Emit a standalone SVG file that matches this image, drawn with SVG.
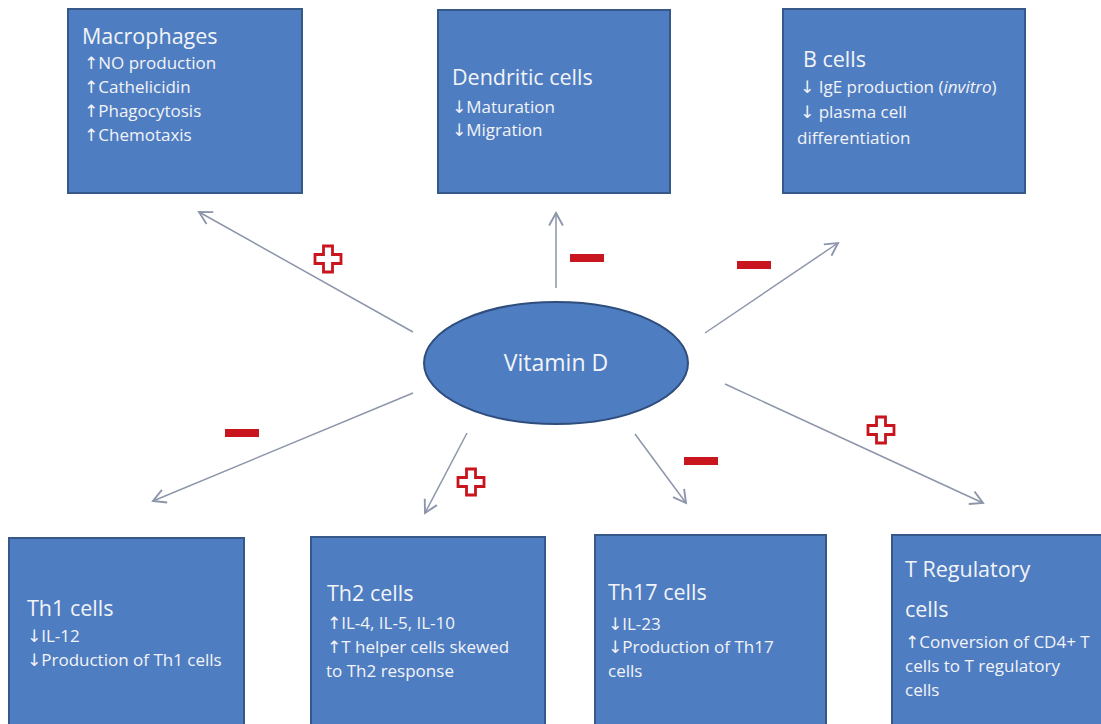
<svg xmlns="http://www.w3.org/2000/svg" width="1101" height="724" viewBox="0 0 1101 724">
<defs>
<style>
.box{fill:#4F7DC1;stroke:#37598A;stroke-width:2}
.t{font-family:"Open Sans","DejaVu Sans",sans-serif;fill:#F2F4F8}
.ttl{font-size:21.5px}
.bd{font-size:17px}
.conn line{stroke:#8C95AA;stroke-width:1.5;fill:none}
.minus{fill:#C8151E}
.plus{fill:#FFFFFF;stroke:#C8151E;stroke-width:2.8;stroke-linejoin:miter}
</style>
<marker id="ah" markerUnits="userSpaceOnUse" markerWidth="20" markerHeight="20" refX="0" refY="0" viewBox="-12 -8 14 16" orient="auto">
<path d="M-10,-5.5 L0,0 L-10,5.5" fill="none" stroke="#8C95AA" stroke-width="1.5"/>
</marker>
<path id="plusShape" d="M-4.5,-13 H4.5 V-4.5 H13 V4.5 H4.5 V13 H-4.5 V4.5 H-13 V-4.5 H-4.5 Z"/>
</defs>
<rect width="1101" height="724" fill="#FFFFFF"/>

<g class="conn" id="connectors">
<line x1="413" y1="332" x2="199" y2="212" marker-end="url(#ah)"/>
<line x1="556" y1="288" x2="556" y2="213" marker-end="url(#ah)"/>
<line x1="705" y1="333" x2="838" y2="243" marker-end="url(#ah)"/>
<line x1="413" y1="393" x2="153" y2="501" marker-end="url(#ah)"/>
<line x1="467" y1="433" x2="425" y2="513" marker-end="url(#ah)"/>
<line x1="635" y1="434" x2="686" y2="503" marker-end="url(#ah)"/>
<line x1="725" y1="384" x2="983" y2="503" marker-end="url(#ah)"/>
</g>

<g id="signs">
<use href="#plusShape" class="plus" x="328" y="259"/>
<rect class="minus" x="570" y="254" width="34" height="8"/>
<rect class="minus" x="737" y="261" width="34" height="8"/>
<rect class="minus" x="225" y="429" width="34" height="8"/>
<use href="#plusShape" class="plus" x="471" y="482"/>
<rect class="minus" x="684" y="457" width="34" height="8"/>
<use href="#plusShape" class="plus" x="881" y="430"/>
</g>

<g id="vitamin-d">
<ellipse cx="556" cy="363" rx="132" ry="61" fill="#4F7DC1" stroke="#2F4D7D" stroke-width="2"/>
<text class="t" x="556" y="371" font-size="23" text-anchor="middle">Vitamin D</text>
</g>

<g id="macrophages">
<rect class="box" x="68" y="9" width="234" height="184"/>
<text class="t ttl" x="82" y="44">Macrophages</text>
<text class="t bd" x="84" y="69">↑NO production</text>
<text class="t bd" x="84" y="93">↑Cathelicidin</text>
<text class="t bd" x="84" y="117">↑Phagocytosis</text>
<text class="t bd" x="84" y="141">↑Chemotaxis</text>
</g>

<g id="dendritic-cells">
<rect class="box" x="438" y="10" width="232" height="183"/>
<text class="t ttl" x="452" y="85">Dendritic cells</text>
<text class="t bd" x="452" y="113">↓Maturation</text>
<text class="t bd" x="452" y="136">↓Migration</text>
</g>

<g id="b-cells">
<rect class="box" x="783" y="9" width="242" height="184"/>
<text class="t ttl" x="803" y="67">B cells</text>
<text class="t bd" x="800" y="93">↓ IgE production (<tspan font-style="italic">invitro</tspan>)</text>
<text class="t bd" x="800" y="118">↓ plasma cell</text>
<text class="t bd" x="797" y="144">differentiation</text>
</g>

<g id="th1-cells">
<rect class="box" x="9" y="538" width="235" height="200"/>
<text class="t ttl" x="27" y="616">Th1 cells</text>
<text class="t bd" x="27" y="642">↓IL-12</text>
<text class="t bd" x="27" y="666">↓Production of Th1 cells</text>
</g>

<g id="th2-cells">
<rect class="box" x="311" y="537" width="234" height="200"/>
<text class="t ttl" x="327" y="601">Th2 cells</text>
<text class="t bd" x="327" y="629">↑IL-4, IL-5, IL-10</text>
<text class="t bd" x="327" y="653">↑T helper cells skewed</text>
<text class="t bd" x="326" y="677">to Th2 response</text>
</g>

<g id="th17-cells">
<rect class="box" x="595" y="535" width="231" height="200"/>
<text class="t ttl" x="608" y="600">Th17 cells</text>
<text class="t bd" x="608" y="630">↓IL-23</text>
<text class="t bd" x="608" y="653">↓Production of Th17</text>
<text class="t bd" x="608" y="677">cells</text>
</g>

<g id="t-regulatory-cells">
<rect class="box" x="892" y="535" width="220" height="200"/>
<text class="t ttl" x="905" y="577">T Regulatory</text>
<text class="t ttl" x="905" y="617">cells</text>
<text class="t bd" x="905" y="648">↑Conversion of CD4+ T</text>
<text class="t bd" x="905" y="672">cells to T regulatory</text>
<text class="t bd" x="905" y="696">cells</text>
</g>
</svg>
